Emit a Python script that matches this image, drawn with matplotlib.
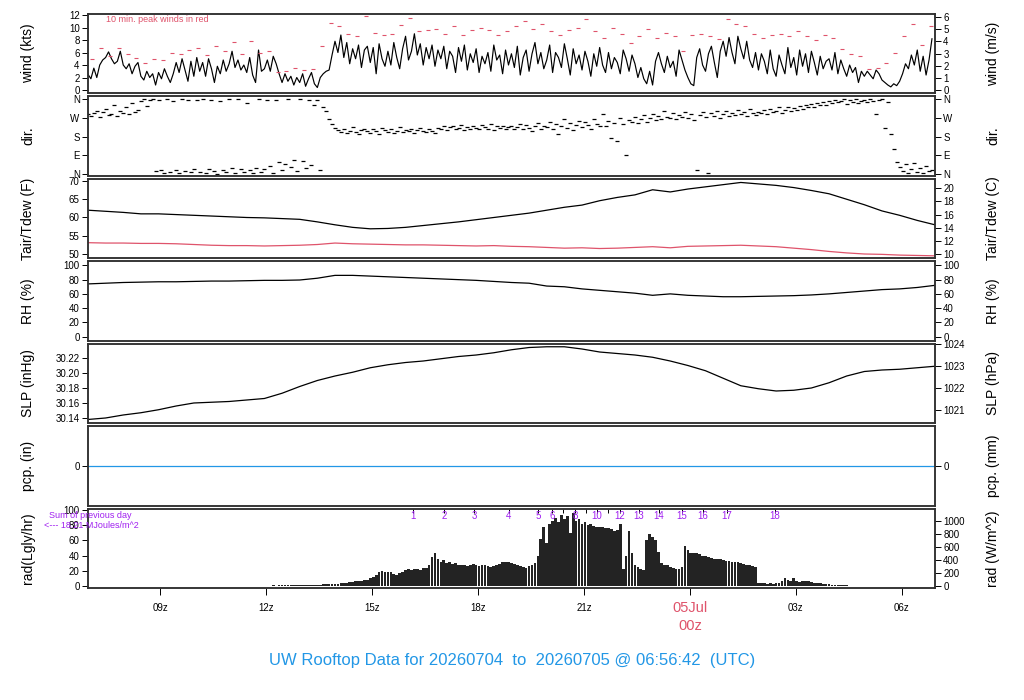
import numpy as np
import matplotlib
matplotlib.use('Agg')
import matplotlib.pyplot as plt

plt.rcParams['font.family'] = ['Liberation Sans', 'DejaVu Sans']

# start of the 24 h window, hours after 00z Jul 4 (06:56:42 UTC)
T0 = 6.945

# wind speed (kts), every 5 minutes
wind_kts = [
    2.5, 1.8, 3.5, 2.0, 4.0, 4.8, 5.2, 6.1, 5.0, 4.2, 4.6, 6.2,
    4.0, 3.4, 4.2, 2.6, 3.8, 4.4, 2.2, 1.6, 3.0, 2.0, 2.6, 0.8,
    2.8, 1.8, 3.4, 2.2, 1.2, 2.6, 4.4, 2.8, 5.0, 3.2, 1.4, 4.6,
    2.2, 5.2, 3.0, 4.4, 2.2, 5.0, 3.4, 1.2, 3.8, 2.6, 4.8, 3.0,
    4.2, 6.2, 3.6, 4.8, 3.2, 4.0, 2.8, 5.2, 2.4, 1.2, 6.4, 3.0,
    3.4, 4.8, 3.0, 5.4, 4.2, 2.6, 1.2, 2.6, 1.4, 2.2, 0.8, 2.0,
    1.2, 2.6, 0.6, 1.8, 2.8, 1.0, 0.4, 2.0, 2.6, 3.0, 3.2, 5.6,
    7.8, 6.0, 8.8, 5.2, 7.6, 4.2, 6.6, 5.0, 7.2, 3.6, 6.4, 7.0,
    4.4, 6.8, 2.6, 7.4, 5.0, 3.8, 6.2, 4.0, 7.6, 5.2, 3.4, 6.6,
    8.6, 4.8, 6.2, 9.0, 5.6, 7.4, 4.0, 6.8, 5.0, 7.2, 3.8, 6.4,
    5.0, 7.0, 3.4, 6.2, 5.4, 2.8, 6.8, 4.6, 7.2, 3.2, 5.8, 4.4,
    6.6, 2.8, 5.4, 4.2, 6.0, 3.0, 7.2, 4.8, 5.6, 2.6, 6.4, 4.0,
    5.8, 3.6, 7.0, 2.4, 5.2, 6.4, 3.0, 5.8, 7.6, 4.2, 6.0, 3.4,
    4.8, 7.2, 2.8, 6.0, 5.2, 3.6, 7.4, 5.0, 2.4, 6.6, 4.2, 5.6,
    3.2, 6.2, 4.6, 2.2, 5.8, 3.8, 6.8, 4.0, 2.8, 6.0, 3.4, 5.2,
    4.4, 2.6, 6.4, 5.0, 3.0, 5.6, 4.2, 2.0, 3.6, 1.8, 1.0, 3.0,
    0.8, 4.6, 6.0, 4.2, 2.8, 5.4, 3.6, 4.6, 2.2, 6.4, 4.8, 3.2,
    2.0, 1.0, 0.7, 5.2, 6.6, 4.0, 3.0, 5.8, 7.0, 4.4, 2.0, 6.2,
    7.8, 5.4, 8.4, 6.0, 4.2, 8.6, 6.6, 5.0, 7.8, 4.8, 3.6, 6.0,
    3.2, 5.8, 4.6, 2.6, 6.4, 3.4, 2.2, 5.6, 4.0, 2.6, 6.8, 3.6,
    5.2, 2.4, 6.4, 3.8, 5.8, 2.8, 6.2, 4.4, 2.4, 5.4, 3.4, 4.6,
    5.0, 3.2, 6.0, 2.6, 4.8, 3.4, 2.2, 4.0, 2.8, 3.6, 1.2, 3.0,
    2.2, 3.0, 2.4, 1.8, 3.2, 2.6, 1.6, 1.2, 0.8, 0.5, 1.0, 0.7,
    1.4, 2.6, 4.2, 3.4, 5.6, 4.0, 6.4, 3.0, 5.4, 2.4, 4.8, 8.2,
]

# 10 min. peak winds (kts), one every 15 minutes
peak_kts = [
    5.0, 6.7, 5.4, 6.8, 5.8, 5.2, 4.4, 5.0, 4.8, 6.0, 5.8, 6.4,
    6.8, 5.6, 7.0, 6.2, 7.7, 5.8, 7.8, 6.0, 6.2, 2.9, 3.0, 3.6,
    3.2, 3.4, 7.0, 10.7, 10.2, 9.0, 8.6, 11.8, 9.2, 8.8, 9.0, 10.4,
    11.5, 9.4, 9.6, 9.8, 9.0, 10.2, 8.8, 9.6, 10.0, 9.6, 8.8, 9.4,
    10.2, 11.1, 9.8, 10.6, 9.4, 8.8, 9.6, 10.0, 11.3, 9.4, 8.4, 10.0,
    9.0, 7.6, 8.6, 9.8, 8.4, 9.2, 8.6, 6.2, 8.8, 9.0, 8.6, 8.2,
    11.3, 10.6, 10.2, 9.0, 8.4, 8.8, 9.0, 8.6, 9.4, 8.6, 8.0, 8.8,
    8.4, 6.6, 5.8, 5.4, 3.4, 3.6, 4.4, 6.0, 8.6, 10.5, 7.2, 10.2,
]

# wind direction (deg), every 5 minutes
wind_dir = [
    285, 278, 290, 300, 272, 295, 310, 282, 288, 330, 276, 300,
    292, 318, 285, 340, 296, 305, 350, 356, 325, 352, 358, 15,
    355, 20, 8, 358, 12, 350, 22, 5, 357, 18, 354, 10,
    25, 352, 14, 359, 6, 28, 355, 17, 3, 350, 20, 11,
    356, 30, 9, 358, 24, 14, 340, 19, 5, 32, 357, 12,
    26, 352, 40, 8, 355, 58, 22, 48, 356, 35, 70, 15,
    356, 62, 30, 352, 45, 330, 355, 20, 318, 300, 265, 240,
    222, 210, 200, 215, 196, 208, 225, 202, 190, 212, 218, 205,
    198, 214, 206, 192, 220, 210, 202, 216, 195, 208, 224, 200,
    212, 204, 218, 196, 210, 222, 206, 200, 214, 208, 198, 220,
    216, 228, 210, 224, 232, 214, 220, 236, 212, 226, 218, 230,
    222, 214, 234, 226, 218, 238, 212, 228, 220, 232, 216, 224,
    230, 218, 226, 240, 214, 236, 222, 205, 228, 245, 218, 232,
    226, 250, 214, 238, 192, 228, 262, 220, 242, 210, 234, 256,
    224, 248, 236, 218, 262, 240, 228, 286, 232, 252, 175, 244,
    160, 266, 238, 90, 258, 250, 272, 242, 264, 280, 248, 270,
    286, 258, 276, 262, 300, 272, 268, 290, 262, 284, 275, 296,
    270, 288, 260, 20, 282, 296, 274, 5, 290, 278, 302, 268,
    286, 300, 276, 292, 282, 306, 288, 296, 278, 310, 290, 284,
    298, 292, 305, 288, 312, 296, 300, 318, 294, 308, 320, 302,
    315, 304, 325, 310, 330, 318, 336, 322, 340, 328, 345, 332,
    350, 338, 355, 342, 348, 358, 335, 352, 345, 356, 340, 350,
    354, 346, 358, 350, 285, 352, 356, 220, 345, 193, 120, 60,
    35, 15, 48, 8, 25, 55, 12, 30, 5, 40, 18, 22,
]

# half-hourly air / dew point temperature (F), RH (%), SLP (inHg), pcp (in)
t_air = [
    62.0, 61.7, 61.4, 61.0, 61.0, 60.8, 60.6, 60.4, 60.2, 60.0,
    59.9, 59.7, 59.5, 58.8, 58.0, 57.3, 56.9, 57.0, 57.3, 57.8,
    58.3, 58.8, 59.4, 60.0, 60.6, 61.2, 62.0, 62.8, 63.4, 64.6,
    65.5, 66.2, 67.6, 67.0, 67.8, 68.4, 69.0, 69.6, 69.2, 68.8,
    68.2, 67.4, 66.5, 65.0, 63.5, 61.8, 60.6, 59.2, 58.0,
]
t_dew = [
    53.1, 53.0, 53.0, 52.9, 52.9, 52.8, 52.6, 52.4, 52.3, 52.3,
    52.2, 52.3, 52.4, 52.6, 53.0, 52.8, 52.7, 52.6, 52.5, 52.5,
    52.4, 52.3, 52.2, 52.3, 52.1, 52.0, 51.8, 51.6, 51.7, 51.5,
    51.6, 51.8, 52.0, 51.7, 52.1, 52.2, 52.3, 52.4, 52.2, 52.0,
    51.6, 51.2, 50.7, 50.3, 50.0, 49.9, 49.7, 49.6, 49.5,
]
rh = [
    74, 75, 76, 76.5, 77, 77, 77.5, 78, 78, 78.5,
    79, 79, 79.5, 82, 86, 86, 85, 84, 83, 82,
    81, 80, 79, 77.5, 76, 75, 71, 70, 67, 65,
    63, 61, 58, 60, 58, 57, 56, 56, 56.5, 57,
    57.5, 58.5, 60, 62, 64, 66, 67, 69, 72,
]
slp = [
    30.138, 30.140, 30.144, 30.147, 30.151, 30.156, 30.160, 30.161, 30.162, 30.164,
    30.166, 30.173, 30.182, 30.190, 30.196, 30.201, 30.207, 30.211, 30.214, 30.216,
    30.219, 30.222, 30.224, 30.227, 30.231, 30.234, 30.235, 30.235, 30.232, 30.228,
    30.226, 30.224, 30.221, 30.216, 30.210, 30.203, 30.193, 30.183, 30.179, 30.176,
    30.177, 30.180, 30.187, 30.196, 30.202, 30.204, 30.205, 30.207, 30.209,
]
pcp = [0.0] * 49

# solar radiation (Langley/hr), every 5 minutes
rad = (
    [0.0] * 60
    + [0.6, 0.5, 0.6, 0.7, 0.6, 0.8, 0.7, 0.9, 1.0, 0.9, 1.1, 1.2, 1.1, 1.3, 1.4, 1.3, 1.5, 1.6, 1.8, 2.0]
    + [2.2, 2.4, 2.6, 2.8, 3.0, 3.3, 3.6, 4.0, 4.5, 5.0]
    + [5.6, 6.0, 6.5, 7.0, 7.8, 8.5, 10.0, 12.0, 15.0]
    + [18.5, 19.5, 19.0, 18.8, 18.2, 16.0, 15.0, 17.0, 18.0]
    + [21.0, 22.0, 21.5, 23.0, 22.0, 21.0, 23.5, 24.0, 28.0]
    + [38, 44, 36, 32, 34]
    + [30, 31, 29, 30, 28]
    + [27, 28, 26, 27, 29, 27, 26, 28, 27, 26, 25, 26, 27, 29, 31, 32, 31, 30]
    + [29, 27, 26, 25, 24, 26, 27, 30]
    + [40, 62, 78, 56, 82]
    + [86, 90, 84, 93, 88]
    + [92, 70, 96, 85, 88]
    + [82, 84, 80, 81, 79]
    + [78, 77, 77, 76, 76, 75]
    + [72, 74, 82]
    + [22, 40, 72, 43, 28, 25]
    + [22, 21, 60, 68, 64]
    + [60, 45, 30, 28, 27, 25, 24, 23]
    + [22, 25, 52, 48, 44]
    + [44, 43, 42, 40, 39, 38, 37, 36, 35, 35, 34, 33, 33, 32, 32, 31, 30, 29, 28, 27, 26, 25]
    + [4, 3.5, 3.5, 3.0, 3.5, 3.0, 3.5, 4.0, 6.0, 11.0]
    + [8, 7, 10, 6, 5, 6, 7, 6, 5]
    + [4, 4, 3.5, 3, 3, 2.5, 2, 1.8, 1.5, 1.2, 1.0, 0.8, 0.6, 0.5, 0.4, 0.3]
    + [0.0] * 25
)

# purple markers along the top of the radiation panel (hours after 00z Jul 4)
mark_times = [16.155, 17.033, 17.883, 18.875, 19.70, 20.09, 20.405, 20.745, 21.06,
              21.37, 21.68, 22.02, 22.56, 23.125, 23.78, 24.37, 25.05, 26.41]
mark_labels = ['1', '2', '3', '4', '5', '6', '', '8', '', '10', '', '12',
               '13', '14', '15', '16', '17', '18']

xticks = [9, 12, 15, 18, 21, 24, 27, 30]
xticklabels = ['09z', '12z', '15z', '18z', '21z', '', '03z', '06z']

RED = '#DF536B'
BLUE = '#2297E6'
PURPLE = '#A020F0'

t5 = T0 + np.arange(len(wind_kts)) / 12
t15 = T0 + 0.125 + np.arange(len(peak_kts)) * 0.25
tdir = T0 + np.arange(len(wind_dir)) / 12
t30 = T0 + np.arange(len(t_air)) * 0.5
trad = T0 + np.arange(len(rad)) / 12

fig, axes = plt.subplots(7, 1, figsize=(10.24, 7), dpi=100, sharex=True,
                         gridspec_kw=dict(hspace=0.044))
fig.subplots_adjust(left=0.0859, right=0.913, bottom=0.16, top=0.98)


def style(ax):
    for s in ax.spines.values():
        s.set_linewidth(1.1)
        s.set_color('#303030')
    ax.tick_params(direction='out', length=4, width=0.7, labelsize=7, pad=2)


def panel(ax, ylim, ticks, labels, rconv, rticks, rlabels, lname, rname):
    ax.set_ylim(*ylim)
    ax.set_yticks(ticks)
    ax.set_yticklabels(labels)
    ax.set_xlim(T0, T0 + 24)
    style(ax)
    ax.tick_params(axis='x', bottom=False, labelbottom=False)
    ar = ax.twinx()
    ar.set_ylim(rconv(ylim[0]), rconv(ylim[1]))
    ar.set_yticks(rticks)
    ar.set_yticklabels(rlabels)
    style(ar)
    pos = ax.get_position()
    yc = (pos.y0 + pos.y1) / 2
    fig.text(0.0273, yc, lname, rotation=90, ha='center', va='center', fontsize=10)
    fig.text(0.970, yc, rname, rotation=90, ha='center', va='center', fontsize=10)
    return ar


# wind speed
ax = axes[0]
ax.plot(t5, wind_kts, color='black', lw=0.85)
ax.plot(t15, peak_kts, ls='none', marker='_', ms=3.2, mew=0.8, color=RED)
panel(ax, (-0.48, 12.16), range(0, 13, 2), [str(v) for v in range(0, 13, 2)],
      lambda v: v * 0.514444, range(0, 7), [str(v) for v in range(0, 7)],
      'wind (kts)', 'wind (m/s)')
ax.text(0.021, 0.93, '10 min. peak winds in red', transform=ax.transAxes,
        color=RED, fontsize=6.5, ha='left', va='center')

# wind direction
ax = axes[1]
ax.plot(tdir, wind_dir, ls='none', marker='_', ms=3.5, mew=0.9, color='black')
dir_ticks = [0, 90, 180, 270, 360]
dir_labels = ['N', 'E', 'S', 'W', 'N']
panel(ax, (-5, 370), dir_ticks, dir_labels, lambda v: v, dir_ticks, dir_labels,
      'dir.', 'dir.')

# temperature / dew point
ax = axes[2]
ax.plot(t30, t_air, color='black', lw=0.9)
ax.plot(t30, t_dew, color=RED, lw=0.9)
panel(ax, (48.9, 70.55), [50, 55, 60, 65, 70], ['50', '55', '60', '65', '70'],
      lambda v: (v - 32) * 5 / 9, [10, 12, 14, 16, 18, 20],
      ['10', '12', '14', '16', '18', '20'], 'Tair/Tdew (F)', 'Tair/Tdew (C)')

# relative humidity
ax = axes[3]
ax.plot(t30, rh, color='black', lw=0.9)
rh_ticks = [0, 20, 40, 60, 80, 100]
panel(ax, (-5.5, 105.5), rh_ticks, [str(v) for v in rh_ticks], lambda v: v,
      rh_ticks, [str(v) for v in rh_ticks], 'RH (%)', 'RH (%)')

# sea level pressure
ax = axes[4]
ax.plot(t30, slp, color='black', lw=0.9)
slp_ticks = [30.14, 30.16, 30.18, 30.20, 30.22]
panel(ax, (30.1333, 30.2387), slp_ticks, ['%.2f' % v for v in slp_ticks],
      lambda v: v * 33.8639, [1021, 1022, 1023, 1024],
      ['1021', '1022', '1023', '1024'], 'SLP (inHg)', 'SLP (hPa)')

# precipitation
ax = axes[5]
ax.plot(t30, pcp, color=BLUE, lw=0.9)
panel(ax, (-1, 1), [0], ['0'], lambda v: v * 25.4, [0], ['0'],
      'pcp. (in)', 'pcp. (mm)')

# solar radiation
ax = axes[6]
ax.bar(trad, rad, width=0.92 / 12, color='#232323', linewidth=0)
rad_ticks = [0, 20, 40, 60, 80, 100]
panel(ax, (-2.6, 101.3), rad_ticks, [str(v) for v in rad_ticks],
      lambda v: v * 11.622, [0, 200, 400, 600, 800, 1000],
      ['0', '200', '400', '600', '800', '1000'], 'rad(Lgly/hr)', 'rad (W/m^2)')
ax.vlines(mark_times, 96.5, 101.3, color='black', lw=0.7)
for tm, lb in zip(mark_times, mark_labels):
    ax.text(tm, 99, lb, color=PURPLE, fontsize=7, ha='center', va='top')
ax.tick_params(axis='x', bottom=True, labelbottom=True, length=5, pad=6)
ax.set_xticks(xticks)
ax.set_xticklabels(xticklabels)
ax.text(24, -0.25, '05Jul', transform=ax.get_xaxis_transform(), color=RED,
        fontsize=10.5, ha='center', va='center')
ax.text(24, -0.48, '00z', transform=ax.get_xaxis_transform(), color=RED,
        fontsize=10.5, ha='center', va='center')

fig.text(90 / 1024, 1 - 515 / 700, 'Sum of previous day', color=PURPLE,
         fontsize=6.5, ha='center', va='center')
fig.text(91 / 1024, 1 - 525 / 700, '<--- 18.21 MJoules/m^2', color=PURPLE,
         fontsize=6.5, ha='center', va='center')

fig.text(0.5, 1 - 660 / 700,
         'UW Rooftop Data for 20260704  to  20260705 @ 06:56:42  (UTC)',
         color=BLUE, fontsize=12, ha='center', va='center')

fig.savefig('out.png', dpi=100)
